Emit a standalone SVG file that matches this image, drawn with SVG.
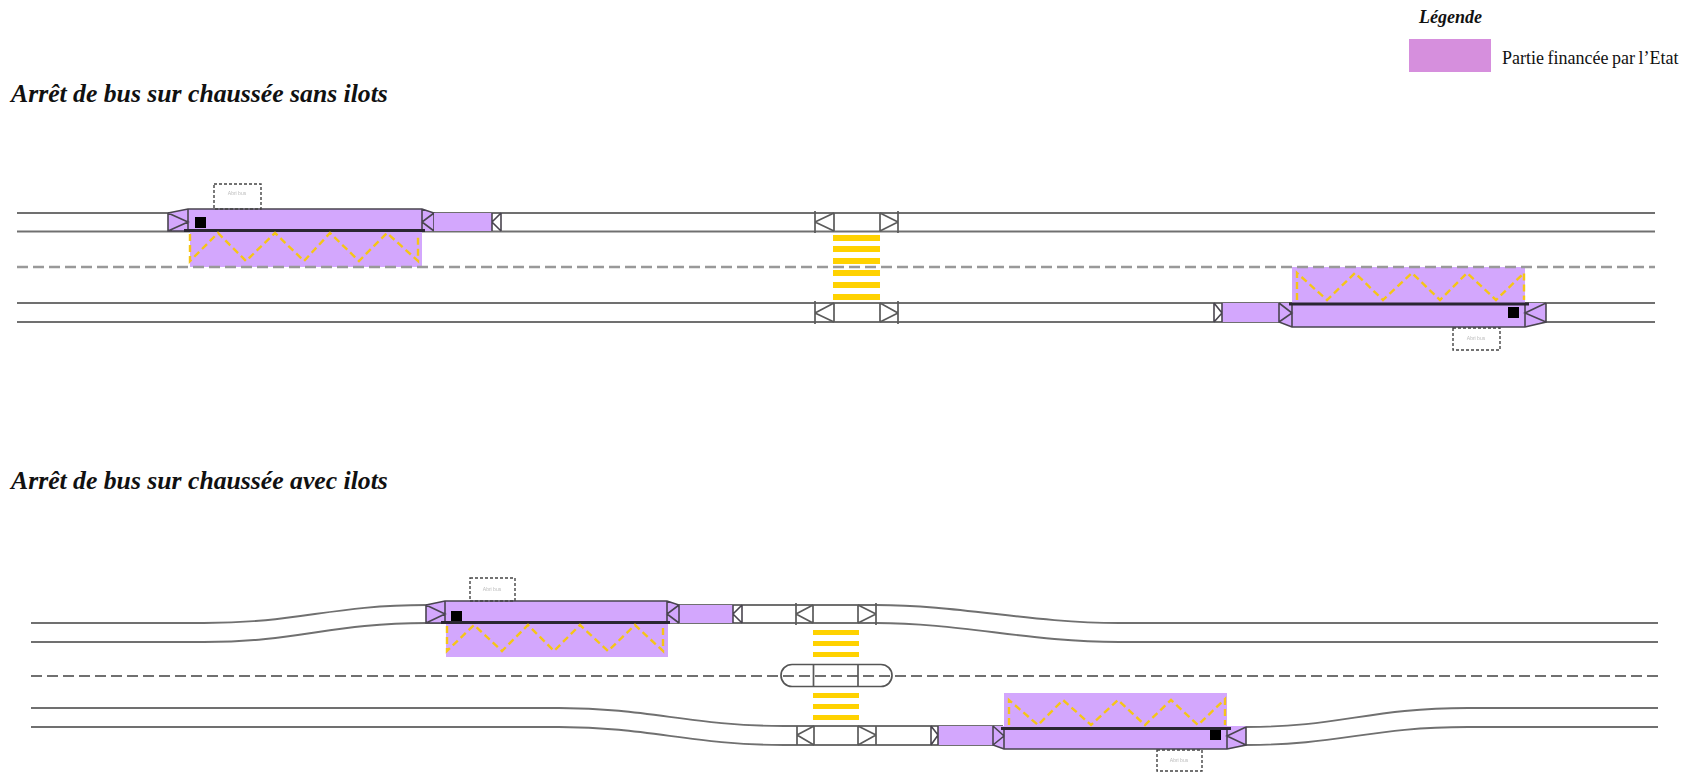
<svg xmlns="http://www.w3.org/2000/svg" width="1696" height="772" viewBox="0 0 1696 772">
<style>
.road{fill:none;stroke:#707070;stroke-width:1.9}
.dash{fill:none;stroke:#999;stroke-width:2.4;stroke-dasharray:11 5}
.dash2{fill:none;stroke:#707070;stroke-width:2.2;stroke-dasharray:11 5}
.pur{fill:#d3a7fd}
.edge{fill:none;stroke:#4a4550;stroke-width:1.6}
.wedge{fill:none;stroke:#5a5a5a;stroke-width:1.7}
.kerb{stroke:#2a2530;stroke-width:2.8;fill:none}
.zig{fill:none;stroke:#f5c518;stroke-width:2.4;stroke-dasharray:7 4}
.stripe{fill:#ffd200}
.box{fill:none;stroke:#444;stroke-width:1.4;stroke-dasharray:3 2}
.mini{font:5px "Liberation Sans",sans-serif;fill:#bbb;text-anchor:middle}
.title{font:italic bold 25.700px "Liberation Serif",serif;fill:#111}
.leg{font:18px "Liberation Serif",serif;fill:#111;word-spacing:-1px}
.legh{font:italic bold 18px "Liberation Serif",serif;fill:#111}
</style>
<defs>
<filter id="soft" filterUnits="userSpaceOnUse" x="0" y="120" width="1696" height="652"><feGaussianBlur stdDeviation="0.45"/></filter>
</defs>
<g id="legend">
<text class="legh" x="1419" y="23">Légende</text>
<rect x="1409" y="39" width="82" height="33" fill="#d68fdd"/>
<text class="leg" x="1502" y="64">Partie financée par l’Etat</text>
</g>
<text class="title" x="11" y="102">Arrêt de bus sur chaussée sans ilots</text>
<text class="title" x="11" y="489">Arrêt de bus sur chaussée avec ilots</text>
<g filter="url(#soft)">
<g id="connectors">
<path class="road" d="M17 213H1655M17 231.500H1655M17 303H1655M17 322H1655"/>
<path class="road" d="M31 623H204C300 623 330 605 427 605H876C960 605 1030 623 1119 623H1658"/>
<path class="road" d="M31 642H204C300 642 330 623 427 623H876C960 623 1030 642 1119 642H1658"/>
<path class="road" d="M31 708H559C650 708 690 726 784 726H1003M1246 727C1340 727 1370 708 1468 708H1658"/>
<path class="road" d="M31 727H559C650 727 690 745 784 745H1003M1246 745C1340 745 1370 727 1468 727H1658"/>
</g>
<g id="stop-top-1">
<rect class="pur" x="190" y="231" width="232" height="36"/>
<path class="pur" d="M168 213L188 209H422L434 213H492V231H168Z"/>
<path class="edge" d="M168 213L188 209H422L434 213V231M168 213V231H188M188 209V231M422 209V231M168 213L188 222L168 231M434 213L422 222L434 231"/>
<path class="kerb" d="M184 230.500H425"/>
<rect x="195" y="217" width="11" height="11" fill="#000"/>
<polyline class="zig" points="190,234 190,261 218,233 246,261 275,233 304,261 330,233 359,261 387,233 418,261 418,234"/>
<rect class="box" x="214" y="184" width="47" height="25"/>
<text class="mini" x="237" y="195">Abri bus</text>
<rect class="pur" x="434" y="213" width="58" height="18"/>
<path class="edge" d="M492 213V231M501 213V231M492 222L501 213M492 222L501 231"/>
</g>
<g id="stop-top-2">
<rect class="pur" x="1292" y="267" width="233" height="36"/>
<path class="pur" d="M1222 303H1546V322L1525 327H1292L1279 322H1222Z"/>
<path class="edge" d="M1279 303V322L1292 327H1525L1546 322V303M1292 303V327M1525 303V327M1279 303L1292 313L1279 322M1546 303L1525 313L1546 322"/>
<path class="kerb" d="M1289 304H1529"/>
<rect x="1508" y="307" width="11" height="11" fill="#000"/>
<polyline class="zig" points="1297,300 1297,273 1327,300 1355,273 1383,300 1412,273 1440,300 1467,273 1496,300 1524,273 1524,300"/>
<rect class="box" x="1453" y="328" width="47" height="22"/>
<text class="mini" x="1476" y="340">Abri bus</text>
<path class="edge" d="M1214 303V322M1222 303V322M1222 313L1214 303M1222 313L1214 322"/>
</g>
<g id="crossing-top">
<path class="wedge" d="M815 211V233M834 213V231M815 222L834 213M815 222L834 231M880 213V231M898 211V233M898 222L880 213M898 222L880 231"/>
<path class="wedge" d="M815 301V324M834 303V322M815 313L834 303M815 313L834 322M880 303V322M898 301V324M898 313L880 303M898 313L880 322"/>
<rect class="stripe" x="833" y="235" width="47" height="6"/>
<rect class="stripe" x="833" y="246" width="47" height="6"/>
<rect class="stripe" x="833" y="258" width="47" height="6"/>
<rect class="stripe" x="833" y="270" width="47" height="6"/>
<rect class="stripe" x="833" y="282" width="47" height="6"/>
<rect class="stripe" x="833" y="294" width="47" height="6"/>
</g>
<path class="dash" d="M17 267H1655"/>
<g id="stop-bottom-1">
<rect class="pur" x="446" y="624" width="222" height="33"/>
<path class="pur" d="M426 605L445 601H667L679 605H733V623H426Z"/>
<path class="edge" d="M426 605L445 601H667L679 605V623M426 605V623H445M445 601V623M667 601V623M426 605L445 614L426 623M679 605L667 614L679 623"/>
<path class="kerb" d="M441 622.500H670"/>
<rect x="451" y="611" width="11" height="10" fill="#000"/>
<polyline class="zig" points="447,626 447,651 474,625 502,651 528,625 554,651 580,625 608,651 635,625 663,651 663,626"/>
<rect class="box" x="470" y="578" width="45" height="23"/>
<text class="mini" x="492" y="591">Abri bus</text>
<path class="edge" d="M733 605V623M742 605V623M733 614L742 605M733 614L742 623"/>
</g>
<g id="crossing-bottom">
<path class="wedge" d="M796 603V625M813 605V623M796 614L813 605M796 614L813 623M858 605V623M876 603V625M876 614L858 605M876 614L858 623"/>
<path class="wedge" d="M797 726V745M814 726V745M797 735L814 726M797 735L814 745M858 726V745M876 726V745M876 735L858 726M876 735L858 745"/>
<rect class="stripe" x="813" y="630" width="46" height="5"/>
<rect class="stripe" x="813" y="641" width="46" height="5"/>
<rect class="stripe" x="813" y="652" width="46" height="5"/>
<rect class="stripe" x="813" y="693" width="46" height="5"/>
<rect class="stripe" x="813" y="704" width="46" height="5"/>
<rect class="stripe" x="813" y="715" width="46" height="5"/>
</g>
<path class="dash2" d="M31 676H1658"/>
<g id="island">
<rect x="781" y="664.500" width="111" height="22" rx="11" fill="none" stroke="#555" stroke-width="1.7"/>
<path class="wedge" d="M813.500 664.500V686.500M858 664.500V686.500"/>
</g>
<g id="stop-bottom-2">
<rect class="pur" x="1004" y="693" width="223" height="35"/>
<path class="pur" d="M938 726H1246V745L1227 749H1004L993 745H938Z"/>
<path class="edge" d="M993 726V745L1004 749H1227L1246 745V727M1004 727V749M1227 727V749M993 726L1004 736L993 745M1246 727L1227 736L1246 745"/>
<path class="kerb" d="M1001 728.500H1231"/>
<rect x="1210" y="730" width="11" height="10" fill="#000"/>
<polyline class="zig" points="1009,725 1009,700 1038,725 1063,700 1091,725 1118,700 1145,725 1171,700 1198,725 1225,699 1225,725"/>
<rect class="box" x="1157" y="750" width="45" height="21"/>
<text class="mini" x="1179" y="762">Abri bus</text>
<path class="edge" d="M931 726V745M938 726V745M938 735L931 726M938 735L931 745"/>
</g>
</g>
</svg>
